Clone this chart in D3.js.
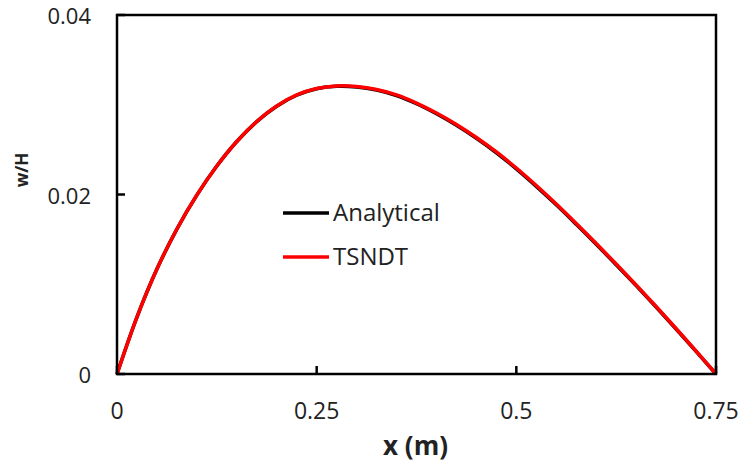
<!DOCTYPE html>
<html>
<head>
<meta charset="utf-8">
<script src="https://cdn.jsdelivr.net/npm/d3@7"></script>
<style>
  html, body { margin: 0; padding: 0; background: #fff; }
  svg { display: block; }
  text { font-family: "Open Sans", "Liberation Sans", sans-serif; fill: #222; }
</style>
</head>
<body>
<svg id="chart" width="740" height="467"></svg>
<script>
// Beam deflection profile w/H along the span x (m)
const xValues = [0, 0.025, 0.05, 0.075, 0.1, 0.125, 0.15, 0.175, 0.2, 0.225, 0.25,
  0.275, 0.3, 0.325, 0.35, 0.375, 0.4, 0.425, 0.45, 0.475, 0.5,
  0.525, 0.55, 0.575, 0.6, 0.625, 0.65, 0.675, 0.7, 0.725, 0.75];

const analytical = [0, 0.00634, 0.01169, 0.01615, 0.01993, 0.02317, 0.02590, 0.02812, 0.02984, 0.03106, 0.03178,
  0.03205, 0.03198, 0.03164, 0.03102, 0.03011, 0.02899, 0.02771, 0.02626, 0.02465, 0.02286,
  0.02091, 0.01885, 0.01668, 0.01446, 0.01218, 0.00985, 0.00746, 0.00502, 0.00253, 0];

const tsndt = [0, 0.00635, 0.01170, 0.01616, 0.01994, 0.02318, 0.02591, 0.02813, 0.02986, 0.03109, 0.03181,
  0.03209, 0.03203, 0.03170, 0.03109, 0.03019, 0.02908, 0.02780, 0.02635, 0.02474, 0.02295,
  0.02100, 0.01894, 0.01677, 0.01454, 0.01226, 0.00992, 0.00752, 0.00507, 0.00256, 0];

const xTicks = [0, 0.25, 0.5, 0.75];
const xTickLabels = ["0", "0.25", "0.5", "0.75"];
const yTicks = [0, 0.02, 0.04];
const yTickLabels = ["0", "0.02", "0.04"];

const seriesNames = ["Analytical", "TSNDT"];
const seriesColors = ["#000000", "#ff0000"];

const svg = d3.select("#chart");
const margin = { left: 117, top: 15, right: 24, bottom: 93 };
const W = 740, H = 467;

const x = d3.scaleLinear().domain([0, 0.75]).range([margin.left, W - margin.right]);
const y = d3.scaleLinear().domain([0, 0.04]).range([H - margin.bottom, margin.top]);

// Inward tick marks
const tickLen = 8;
svg.append("g")
  .selectAll("line")
  .data(yTicks)
  .join("line")
  .attr("x1", x(0)).attr("x2", x(0) + tickLen)
  .attr("y1", d => y(d)).attr("y2", d => y(d))
  .attr("stroke", "#000").attr("stroke-width", 2.5);

svg.append("g")
  .selectAll("line")
  .data(xTicks)
  .join("line")
  .attr("x1", d => x(d)).attr("x2", d => x(d))
  .attr("y1", y(0)).attr("y2", y(0) - tickLen)
  .attr("stroke", "#000").attr("stroke-width", 2.5);

// Tick labels
svg.append("g")
  .selectAll("text")
  .data(yTicks)
  .join("text")
  .attr("x", x(0) - 26)
  .attr("y", d => y(d) + 9)
  .attr("text-anchor", "end")
  .style("font-size", "22px")
  .text((d, i) => yTickLabels[i]);

svg.append("g")
  .selectAll("text")
  .data(xTicks)
  .join("text")
  .attr("x", d => x(d))
  .attr("y", y(0) + 45)
  .attr("text-anchor", "middle")
  .style("font-size", "23px")
  .text((d, i) => xTickLabels[i]);

// Axis titles
svg.append("text")
  .attr("transform", "translate(28, 170) rotate(-90)")
  .attr("text-anchor", "middle")
  .style("font-size", "17px")
  .style("font-weight", "bold")
  .text("w/H");

svg.append("text")
  .attr("x", x(0.375) - 1)
  .attr("y", H - 12)
  .attr("text-anchor", "middle")
  .style("font-size", "26px")
  .style("font-weight", "bold")
  .text("x (m)");

// Curves
const line = d3.line()
  .x((d, i) => x(xValues[i]))
  .y(d => y(d))
  .curve(d3.curveCatmullRom.alpha(0.5));

[analytical, tsndt].forEach((s, k) => {
  svg.append("path")
    .datum(s)
    .attr("d", line)
    .attr("fill", "none")
    .attr("stroke", seriesColors[k])
    .attr("stroke-width", 3.5)
    .attr("stroke-linejoin", "round");
});

// Plot frame
svg.append("rect")
  .attr("x", x(0)).attr("y", y(0.04))
  .attr("width", x(0.75) - x(0))
  .attr("height", y(0) - y(0.04))
  .attr("fill", "none")
  .attr("stroke", "#000")
  .attr("stroke-width", 2.5);

// Legend
const legend = svg.append("g").attr("transform", "translate(283, 213)");
seriesNames.forEach((name, i) => {
  const g = legend.append("g").attr("transform", `translate(0, ${i * 44})`);
  g.append("line")
    .attr("x1", 0).attr("x2", 46)
    .attr("y1", 0).attr("y2", 0)
    .attr("stroke", seriesColors[i])
    .attr("stroke-width", 3.5);
  g.append("text")
    .attr("x", 50)
    .attr("y", 0)
    .attr("dy", "0.35em")
    .style("font-size", "24px")
    .text(name);
});
</script>
</body>
</html>
